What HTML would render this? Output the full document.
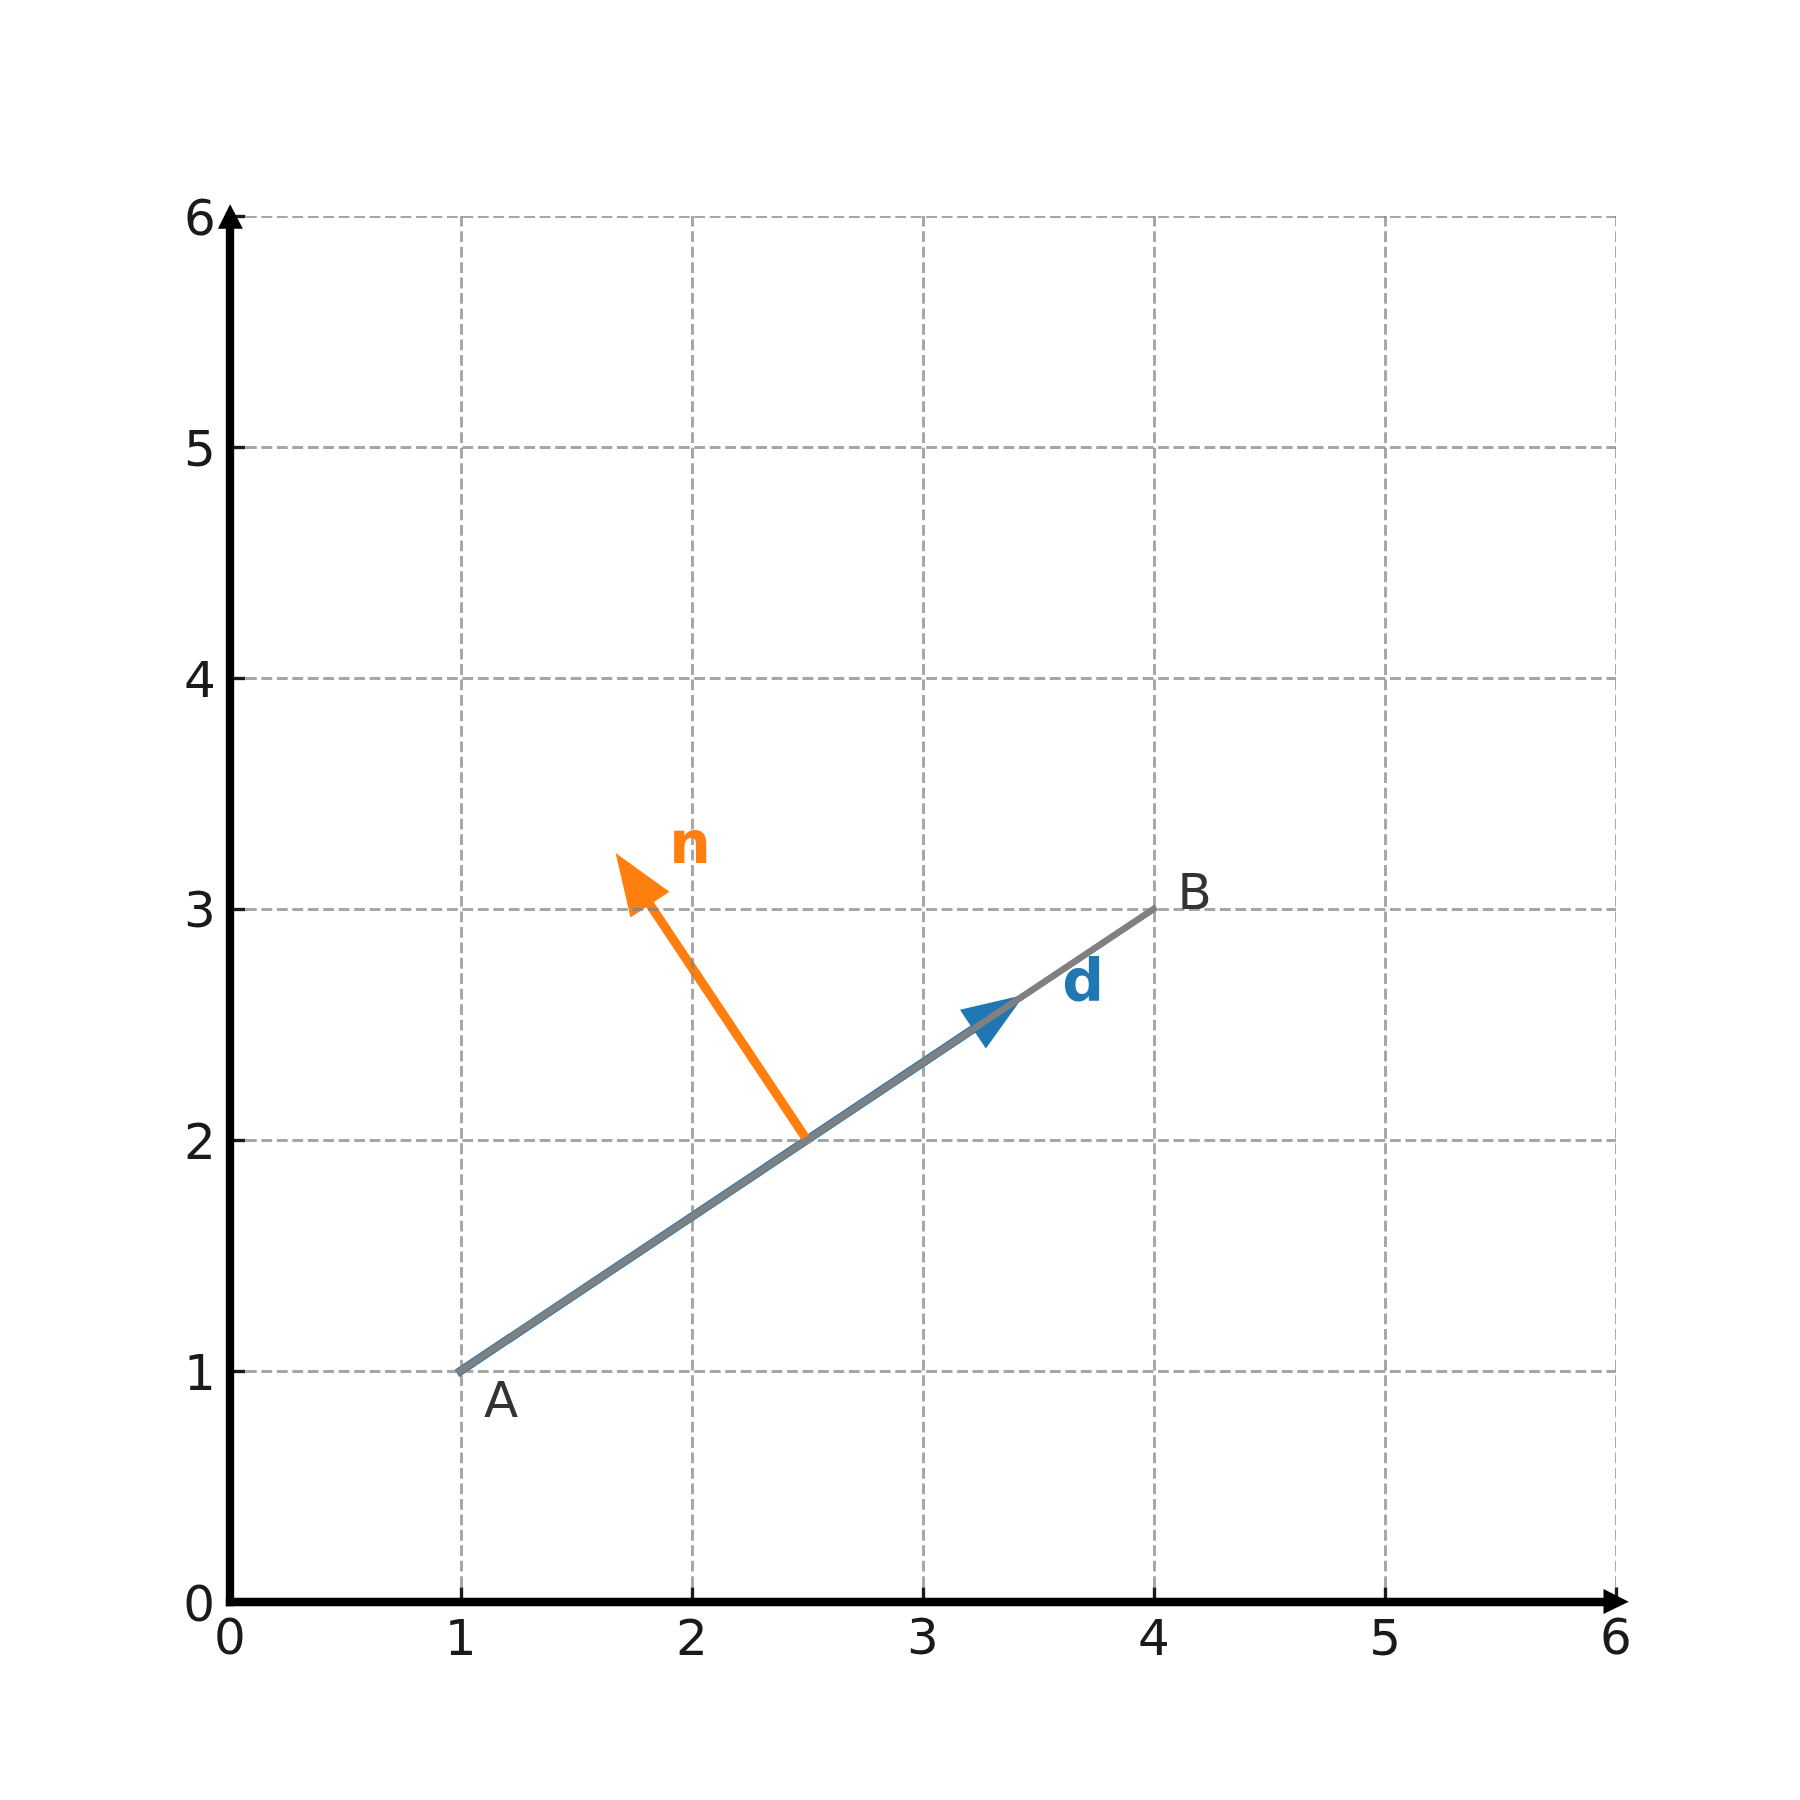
<!DOCTYPE html>
<html lang="en">
<head>
<meta charset="utf-8">
<title>Direction and normal vectors</title>
<style>
html,body{margin:0;padding:0;background:#ffffff;}
body{width:1800px;height:1800px;overflow:hidden;}
svg{display:block;}
text{font-family:"DejaVu Sans","Liberation Sans",sans-serif;}
.tk{font-size:50px;fill:#1a1a1a;}
.pt{font-size:50px;fill:#333333;}
.vb{font-size:58.33px;font-weight:bold;}
</style>
</head>
<body>
<svg width="1800" height="1800" viewBox="0 0 1800 1800">
<rect x="0" y="0" width="1800" height="1800" fill="#ffffff"/>
<defs><clipPath id="ax"><rect x="229.5" y="216" width="1386.5" height="1386.5"/></clipPath></defs>
<g>
<polygon points="459.32,1376.89 976.93,1031.63 972.21,1024.55 454.61,1369.82" fill="#1f77b4"/>
<polygon points="1024.40,994.85 985.83,1048.58 959.98,1009.82" fill="#1f77b4"/>
<circle cx="807.00" cy="1140.00" r="4.58" fill="#ff7f0e"/>
<polygon points="810.81,1137.46 652.68,900.43 645.06,905.52 803.19,1142.54" fill="#ff7f0e"/>
<polygon points="615.60,853.10 669.45,891.65 630.51,917.62" fill="#ff7f0e"/>
</g>
<g clip-path="url(#ax)" stroke="#808080" stroke-opacity="0.7" stroke-width="2.92" stroke-dasharray="10.79 4.67" fill="none">
<path d="M230.5 1602.5 H1616.5"/>
<path d="M230.5 1371.5 H1616.5"/>
<path d="M230.5 1140.5 H1616.5"/>
<path d="M230.5 909.5 H1616.5"/>
<path d="M230.5 678.5 H1616.5"/>
<path d="M230.5 447.5 H1616.5"/>
<path d="M230.5 216.5 H1616.5"/>
<path d="M230.5 1602.5 V216"/>
<path d="M461.5 1602.5 V216"/>
<path d="M692.5 1602.5 V216"/>
<path d="M923.5 1602.5 V216"/>
<path d="M1154.5 1602.5 V216"/>
<path d="M1385.5 1602.5 V216"/>
<path d="M1616.5 1602.5 V216"/>
</g>
<path d="M457.73 1372.85 L1156.27 907.15" stroke="#808080" stroke-width="6.67" fill="none"/>
<g stroke="#1a1a1a" stroke-width="3.33" fill="none">
<path d="M461.5 1602 V1587.4"/>
<path d="M692.5 1602 V1587.4"/>
<path d="M923.5 1602 V1587.4"/>
<path d="M1154.5 1602 V1587.4"/>
<path d="M1385.5 1602 V1587.4"/>
<path d="M1616.5 1602 V1587.4"/>
<path d="M229.5 1371.5 H245.3"/>
<path d="M229.5 1140.5 H245.3"/>
<path d="M229.5 909.5 H245.3"/>
<path d="M229.5 678.5 H245.3"/>
<path d="M229.5 447.5 H245.3"/>
<path d="M229.5 216.5 H245.3"/>
</g>
<path d="M230 212 V1606.17" stroke="#000" stroke-width="8.33" fill="none"/>
<path d="M225.83 1602 H1619.6" stroke="#000" stroke-width="8.33" fill="none"/>
<polygon points="230.1,204.2 217.9,228.8 242.9,228.8" fill="#000"/>
<polygon points="1628.7,1601.8 1603.5,1588.9 1603.5,1614.0" fill="#000"/>
<text class="tk" x="229.9" y="1654" text-anchor="middle">0</text>
<text class="tk" x="460.7" y="1655" text-anchor="middle">1</text>
<text class="tk" x="692.0" y="1655" text-anchor="middle">2</text>
<text class="tk" x="923.0" y="1654" text-anchor="middle">3</text>
<text class="tk" x="1153.8" y="1655" text-anchor="middle">4</text>
<text class="tk" x="1385.1" y="1655" text-anchor="middle">5</text>
<text class="tk" x="1616.0" y="1654" text-anchor="middle">6</text>
<text class="tk" x="215.00" y="1621.0" text-anchor="end">0</text>
<text class="tk" x="215.70" y="1390.0" text-anchor="end">1</text>
<text class="tk" x="215.90" y="1159.0" text-anchor="end">2</text>
<text class="tk" x="215.90" y="927.2" text-anchor="end">3</text>
<text class="tk" x="215.80" y="697.0" text-anchor="end">4</text>
<text class="tk" x="215.90" y="466.0" text-anchor="end">5</text>
<text class="tk" x="215.90" y="235.0" text-anchor="end">6</text>
<text class="pt" x="484.0" y="1417.2">A</text>
<text class="pt" x="1177.6" y="909.0">B</text>
<text class="vb" fill="#1f77b4" x="1062.2" y="1000.8">d</text>
<text class="vb" fill="#ff7f0e" x="669.2" y="862.8">n</text>
</svg>
</body>
</html>
